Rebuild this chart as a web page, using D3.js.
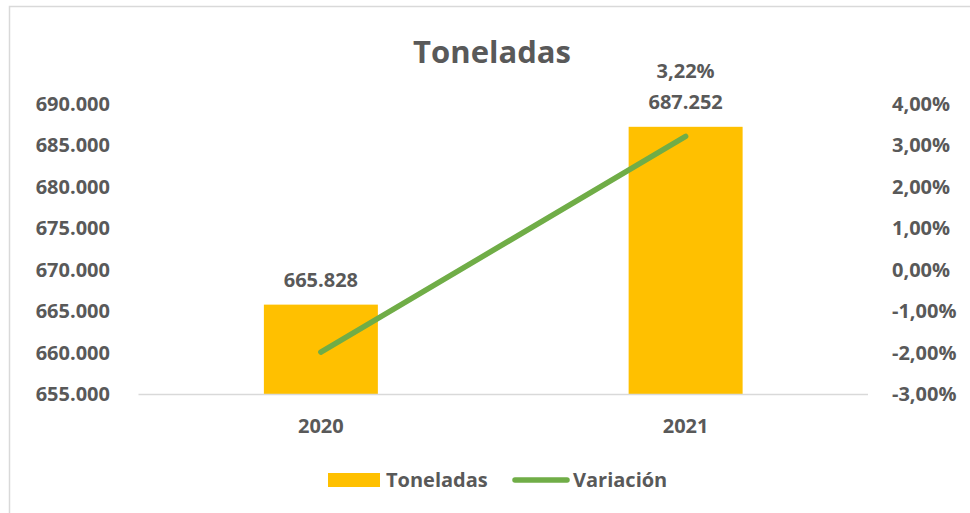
<!DOCTYPE html>
<html>
<head>
<meta charset="utf-8">
<script src="https://cdn.jsdelivr.net/npm/d3@7"></script>
<style>
  html, body { margin: 0; padding: 0; background: #fff; }
  svg { display: block; }
  text { font-family: "Open Sans", sans-serif; font-weight: 700; fill: #595959; }
</style>
</head>
<body>
<svg id="chart" width="970" height="513"></svg>
<script>
// ---- data ----
const categories = ["2020", "2021"];
const toneladas = [665828, 687252];
const variacion = [-0.0198, 0.0322];
const leftTicks = [655000, 660000, 665000, 670000, 675000, 680000, 685000, 690000];
const rightTicks = [-0.03, -0.02, -0.01, 0, 0.01, 0.02, 0.03, 0.04];
const chartTitle = "Toneladas";
const seriesNames = ["Toneladas", "Variación"];

// ---- setup ----
const svg = d3.select("#chart");
const W = 970, H = 513;
const plot = { left: 138.5, right: 868, top: 104, bottom: 394.5 };

const loc = d3.formatLocale({ decimal: ",", thousands: ".", grouping: [3], currency: ["", "€"], minus: "-" });
const fmtNum = loc.format(",.0f");
const fmtPct = loc.format(".2%");

const x = d3.scaleBand().domain(categories).range([plot.left, plot.right])
  .paddingInner(0.6875).paddingOuter(0.34375);
const yL = d3.scaleLinear().domain([655000, 690000]).range([plot.bottom, plot.top]);
const yR = d3.scaleLinear().domain([-0.03, 0.04]).range([plot.bottom, plot.top]);

// chart border
svg.append("rect").attr("x", 9.5).attr("y", 6.5).attr("width", 980).attr("height", 520)
  .attr("fill", "none").attr("stroke", "#D9D9D9").attr("stroke-width", 1.5);

// title
svg.append("text").attr("x", 492).attr("y", 63).attr("text-anchor", "middle")
  .style("font-size", "31px").text(chartTitle);

// left axis
const axL = svg.append("g").attr("transform", `translate(${110},0)`)
  .call(d3.axisLeft(yL).tickValues(leftTicks).tickFormat(fmtNum).tickSize(0).tickPadding(0));
axL.select(".domain").remove();
axL.selectAll("text").style("font-size", "20px").attr("fill", "#595959").attr("font-family", null);

// right axis
const axR = svg.append("g").attr("transform", `translate(${892},0)`)
  .call(d3.axisRight(yR).tickValues(rightTicks).tickFormat(fmtPct).tickSize(0).tickPadding(0));
axR.select(".domain").remove();
axR.selectAll("text").style("font-size", "20px").attr("fill", "#595959").attr("font-family", null);

// bars
svg.append("g").selectAll("rect").data(categories).join("rect")
  .attr("x", d => x(d))
  .attr("y", (d, i) => yL(toneladas[i]))
  .attr("width", x.bandwidth())
  .attr("height", (d, i) => plot.bottom - yL(toneladas[i]))
  .attr("fill", "#FFC000");

// baseline
svg.append("line").attr("x1", plot.left).attr("x2", plot.right)
  .attr("y1", plot.bottom).attr("y2", plot.bottom)
  .attr("stroke", "#D9D9D9").attr("stroke-width", 1.5);

// bottom axis labels
const axB = svg.append("g").attr("transform", `translate(0,${plot.bottom})`)
  .call(d3.axisBottom(x).tickSize(0).tickPadding(0));
axB.select(".domain").remove();
axB.selectAll("text").style("font-size", "20px").attr("fill", "#595959").attr("font-family", null)
  .attr("dy", null).attr("y", 38);

// line
const cx = d => x(d) + x.bandwidth() / 2;
const line = d3.line().x((d, i) => cx(categories[i])).y(d => yR(d));
svg.append("path").datum(variacion).attr("d", line)
  .attr("fill", "none").attr("stroke", "#70AD47").attr("stroke-width", 5.5)
  .attr("stroke-linecap", "round");

// bar data labels
svg.append("g").selectAll("text").data(categories).join("text")
  .attr("x", d => cx(d))
  .attr("y", (d, i) => yL(toneladas[i]) - 18)
  .attr("text-anchor", "middle").style("font-size", "20px")
  .attr("fill", "#404040")
  .text((d, i) => fmtNum(toneladas[i]));

// line data label (only last)
svg.append("text")
  .attr("x", cx(categories[1]))
  .attr("y", 78)
  .attr("text-anchor", "middle").style("font-size", "20px")
  .attr("fill", "#404040")
  .text(fmtPct(variacion[1]));

// legend
const lg = svg.append("g");
lg.append("rect").attr("x", 328).attr("y", 473).attr("width", 52).attr("height", 14).attr("fill", "#FFC000");
lg.append("text").attr("x", 386).attr("y", 487).style("font-size", "20px").text(seriesNames[0]);
lg.append("line").attr("x1", 515).attr("x2", 567).attr("y1", 480).attr("y2", 480)
  .attr("stroke", "#70AD47").attr("stroke-width", 5.5).attr("stroke-linecap", "round");
lg.append("text").attr("x", 573).attr("y", 487).style("font-size", "20px").text(seriesNames[1]);
</script>
</body>
</html>
